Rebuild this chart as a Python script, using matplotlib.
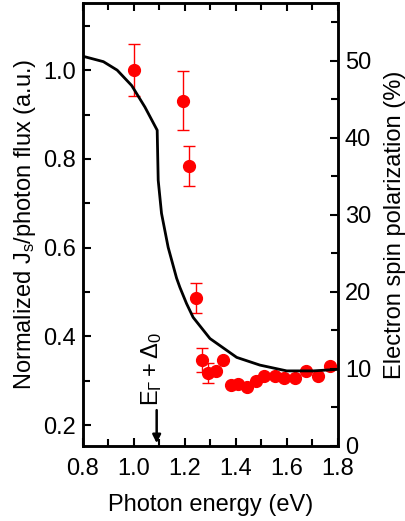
import numpy as np
import matplotlib
matplotlib.use('Agg')
import matplotlib.pyplot as plt
from matplotlib.ticker import MultipleLocator

plt.rcParams['font.family'] = ['Liberation Sans', 'DejaVu Sans']
plt.rcParams['mathtext.fontset'] = 'custom'
plt.rcParams['mathtext.rm'] = 'Liberation Sans'
plt.rcParams['mathtext.it'] = 'Liberation Sans'

# measured normalized Js / photon flux (left axis)
energy_pts = [1.001, 1.192, 1.217, 1.242, 1.265, 1.291, 1.322, 1.348, 1.379, 1.409,
              1.442, 1.477, 1.511, 1.552, 1.588, 1.631, 1.675, 1.723, 1.769]
js_norm = [1.0, 0.931, 0.783, 0.486, 0.347, 0.317, 0.321, 0.347, 0.291, 0.293,
           0.287, 0.300, 0.311, 0.311, 0.307, 0.307, 0.322, 0.311, 0.333]
js_err = [0.059, 0.067, 0.045, 0.034, 0.027, 0.022, 0.0, 0.0, 0.0, 0.0,
          0.0, 0.0, 0.0, 0.0, 0.0, 0.0, 0.0, 0.0, 0.0]

# calculated spin polarization (right axis)
energy_calc = [0.80, 0.88, 0.934, 0.991, 1.043, 1.091, 1.095, 1.108, 1.134, 1.167,
               1.180, 1.206, 1.232, 1.298, 1.403, 1.494, 1.599, 1.703, 1.80]
pol_calc = [50.6, 49.9, 48.8, 46.8, 44.0, 41.0, 34.5, 30.2, 25.8, 21.8,
            20.6, 18.5, 16.7, 13.95, 11.5, 10.5, 9.75, 9.75, 9.95]

fig = plt.figure(figsize=(4.06, 5.21), dpi=100)
ax = fig.add_axes([0.2044, 0.144, 0.628, 0.850])
ax2 = ax.twinx()

ax.errorbar(energy_pts, js_norm, yerr=js_err, fmt='o', color='red', ecolor='red',
            markersize=8.5, elinewidth=1, capsize=4, capthick=1, zorder=3)
ax2.plot(energy_calc, pol_calc, color='black', lw=2)

ax.set_xlim(0.8, 1.8)
ax.set_ylim(0.153, 1.151)
ax2.set_ylim(0, 57.5)

ax.xaxis.set_major_locator(MultipleLocator(0.2))
ax.xaxis.set_minor_locator(MultipleLocator(0.1))
ax.yaxis.set_major_locator(MultipleLocator(0.2))
ax.yaxis.set_minor_locator(MultipleLocator(0.1))
ax2.yaxis.set_major_locator(MultipleLocator(10))
ax2.yaxis.set_minor_locator(MultipleLocator(5))

fs = 17
ax.tick_params(axis='both', which='both', direction='in', width=1.5, labelsize=fs)
ax.tick_params(axis='x', which='both', top=True, pad=9)
ax.tick_params(axis='y', pad=5)
ax.tick_params(which='major', length=6)
ax.tick_params(which='minor', length=5)
ax2.tick_params(axis='y', which='both', direction='in', width=1.5, labelsize=fs, pad=5)
ax2.tick_params(which='major', length=6)
ax2.tick_params(which='minor', length=5)

for a in (ax, ax2):
    for s in a.spines.values():
        s.set_linewidth(1.8)

ax.set_xticks([0.8, 1.0, 1.2, 1.4, 1.6, 1.8])
ax.set_xticklabels(['0.8', '1.0', '1.2', '1.4', '1.6', '1.8'])
ax.set_xlabel('Photon energy (eV)', fontsize=fs, labelpad=10)
ax.set_ylabel('Normalized J$_\\mathrm{s}$/photon flux (a.u.)', fontsize=fs, labelpad=4)
ax2.set_ylabel('Electron spin polarization (%)', fontsize=fs, labelpad=9)

ax.annotate('', xy=(1.089, 0.153), xytext=(1.089, 0.24),
            arrowprops=dict(arrowstyle='-|>', color='black', lw=1.8, mutation_scale=12))
ax.text(1.068, 0.242, '$\\mathrm{E_\\Gamma+\\Delta_0}$', rotation=90, fontsize=fs,
        ha='center', va='bottom')

fig.savefig('out.png', dpi=100)
